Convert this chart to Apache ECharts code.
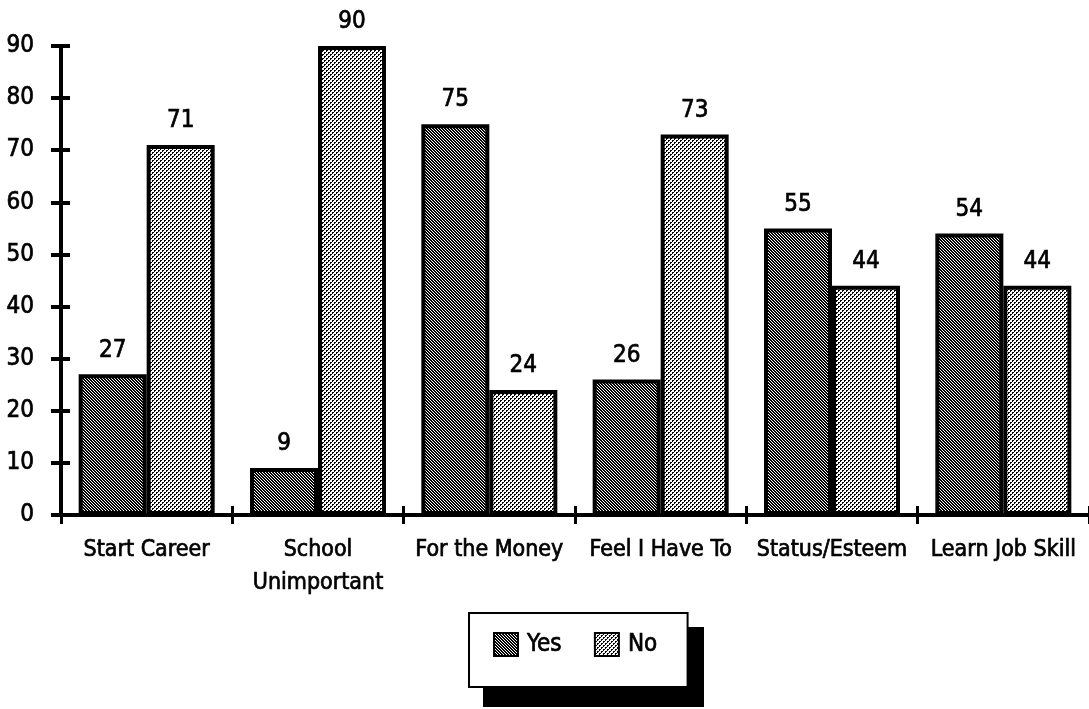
<!DOCTYPE html>
<html>
<head>
<meta charset="utf-8">
<title>Reasons for working</title>
<script src="https://cdn.jsdelivr.net/npm/echarts@6/dist/echarts.min.js"></script>
<style>
  html, body { margin: 0; padding: 0; background: #fff; }
  #chart { width: 1089px; height: 709px; }
</style>
</head>
<body>
<div id="chart"></div>
<script>
// Survey answers per reason (percent)
const categories = ['Start Career', 'School\nUnimportant', 'For the Money', 'Feel I Have To', 'Status/Esteem', 'Learn Job Skill'];
const yesValues = [27, 9, 75, 26, 55, 54];
const noValues = [71, 90, 24, 73, 44, 44];
const seriesNames = ['Yes', 'No'];
const yMin = 0;
const yMax = 90;
const yStep = 10;

const FONT = "'Liberation Sans Narrow', 'Arial Narrow', 'DejaVu Sans Condensed', sans-serif";

// Small repeating bitmap tiles for the dithered bar fills
function makeTile(size, isBlack) {
  const c = document.createElement('canvas');
  c.width = size; c.height = size;
  const ctx = c.getContext('2d');
  ctx.fillStyle = '#fff';
  ctx.fillRect(0, 0, size, size);
  ctx.fillStyle = '#000';
  for (let y = 0; y < size; y++) {
    for (let x = 0; x < size; x++) {
      if (isBlack(x, y)) ctx.fillRect(x, y, 1, 1);
    }
  }
  return c;
}
// dark fill: black with thin white "\" diagonals
const yesTile = makeTile(3, (x, y) => x !== y);
// light fill: offset dot lattice
const noTile = makeTile(4, (x, y) => (x < 2 && y < 2 && !(x === 1 && y === 1)) || (x >= 2 && y >= 2 && !(x === 3 && y === 3)));

const yesFill = { image: yesTile, repeat: 'repeat' };
const noFill = { image: noTile, repeat: 'repeat' };

const chart = echarts.init(document.getElementById('chart'), null, { renderer: 'canvas' });

// a hairline outline gives the glyphs a slightly heavier stroke
const labelStyle = {
  color: '#000',
  fontFamily: FONT,
  fontSize: 24,
  textBorderColor: '#000',
  textBorderWidth: 0.7
};

const valueAxisBase = {
  type: 'value',
  min: yMin,
  max: yMax,
  interval: yStep,
  splitLine: { show: false }
};

const option = {
  animation: false,
  backgroundColor: '#fff',
  grid: { left: 61, top: 46, width: 1031, bottom: 194, containLabel: false },
  // drop shadow behind the legend box
  graphic: [
    {
      type: 'rect',
      z: 0,
      silent: true,
      shape: { x: 483, y: 627, width: 221, height: 80 },
      style: { fill: '#000' }
    }
  ],
  xAxis: [
    {
      type: 'category',
      data: categories,
      axisLine: { show: true, lineStyle: { color: '#000', width: 4 } },
      axisTick: { show: true, inside: false, length: 9, lineStyle: { color: '#000', width: 3 } },
      axisLabel: { ...labelStyle, fontSize: 23, lineHeight: 33, margin: 19, interval: 0 }
    },
    {
      type: 'category',
      data: categories,
      position: 'bottom',
      axisLine: { show: false },
      axisTick: { show: true, inside: true, length: 9, lineStyle: { color: '#000', width: 3 } },
      axisLabel: { show: false }
    }
  ],
  yAxis: [
    {
      ...valueAxisBase,
      axisLine: { show: true, lineStyle: { color: '#000', width: 4 } },
      axisTick: { show: true, inside: false, length: 10, lineStyle: { color: '#000', width: 4 } },
      axisLabel: { ...labelStyle, margin: 27 }
    },
    {
      ...valueAxisBase,
      position: 'left',
      axisLine: { show: false },
      axisTick: { show: true, inside: true, length: 9, lineStyle: { color: '#000', width: 4 } },
      axisLabel: { show: false }
    }
  ],
  legend: {
    data: seriesNames,
    left: 469,
    top: 613,
    z: 5,
    orient: 'horizontal',
    icon: 'rect',
    padding: [19, 30, 30, 24],
    itemGap: 32,
    itemWidth: 24,
    itemHeight: 23,
    backgroundColor: '#fff',
    borderColor: '#000',
    borderWidth: 2,
    borderRadius: 0,
    itemStyle: { borderColor: '#000', borderWidth: 2 },
    textStyle: { ...labelStyle, lineHeight: 24, padding: [0, 0, 0, 4] }
  },
  series: [
    {
      name: seriesNames[0],
      type: 'bar',
      data: yesValues,
      barWidth: 68,
      barGap: '0%',
      itemStyle: { color: yesFill, borderColor: '#000', borderWidth: 4 },
      label: { show: true, position: 'top', distance: 12, ...labelStyle }
    },
    {
      name: seriesNames[1],
      type: 'bar',
      data: noValues,
      barWidth: 68,
      barGap: '0%',
      itemStyle: { color: noFill, borderColor: '#000', borderWidth: 4 },
      label: { show: true, position: 'top', distance: 12, ...labelStyle }
    }
  ]
};

chart.setOption(option);
</script>
</body>
</html>
